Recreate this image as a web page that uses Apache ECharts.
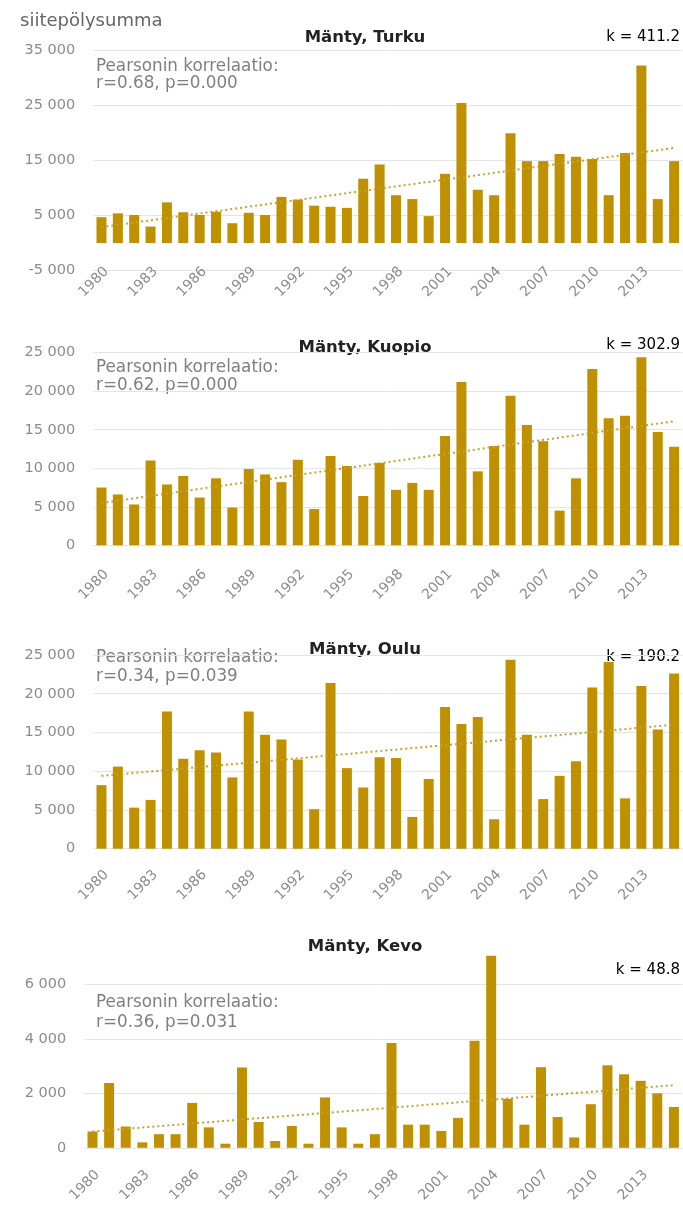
<!DOCTYPE html>
<html>
<head>
<meta charset="utf-8">
<script src="https://cdn.jsdelivr.net/npm/echarts@6/dist/echarts.min.js"></script>
<style>
  html, body { margin: 0; padding: 0; background: #fff; }
  #chart { width: 683px; height: 1205px; }
</style>
</head>
<body>
<div id="chart"></div>
<script>
// vuodet (x-akseli)
const years = ['1980', '1981', '1982', '1983', '1984', '1985', '1986', '1987', '1988', '1989',
  '1990', '1991', '1992', '1993', '1994', '1995', '1996', '1997', '1998', '1999',
  '2000', '2001', '2002', '2003', '2004', '2005', '2006', '2007', '2008', '2009',
  '2010', '2011', '2012', '2013', '2014', '2015'];

// siitepölysummat, luettu kuvasta
const turku = [4700, 5400, 5100, 3000, 7400, 5600, 5100, 5700, 3600, 5500, 5100, 8400, 7900, 6800, 6600,
  6400, 11700, 14300, 8700, 8000, 4900, 12600, 25500, 9700, 8700, 20000, 14900, 14900, 16200, 15700,
  15300, 8700, 16400, 32300, 8000, 14900];
const kuopio = [7500, 6600, 5300, 11000, 7900, 9000, 6200, 8700, 4900, 9900, 9200, 8200, 11100, 4700, 11600,
  10300, 6400, 10700, 7200, 8100, 7200, 14200, 21200, 9600, 12900, 19400, 15600, 13500, 4500, 8700,
  22900, 16500, 16800, 24400, 14700, 12800];
const oulu = [8200, 10600, 5300, 6300, 17700, 11600, 12700, 12400, 9200, 17700, 14700, 14100, 11500, 5100, 21400,
  10400, 7900, 11800, 11700, 4100, 9000, 18300, 16100, 17000, 3800, 24400, 14700, 6400, 9400, 11300,
  20800, 24100, 6500, 21000, 15400, 22600];
const kevo = [600, 2380, 780, 200, 500, 500, 1650, 750, 150, 2950, 950, 250, 800, 150, 1850,
  750, 150, 500, 3850, 850, 850, 620, 1100, 3930, 7050, 1800, 850, 2960, 1130, 380,
  1600, 3030, 2700, 2460, 2000, 1500];

// trendiviivan päätepisteet (1980, 2015)
const turkuTrend = [2900, 17300];
const kuopioTrend = [5500, 16100];
const ouluTrend = [9400, 16000];
const kevoTrend = [600, 2300];

// tekstit
const titles = ['Mänty, Turku', 'Mänty, Kuopio', 'Mänty, Oulu', 'Mänty, Kevo'];
const slopes = ['k = 411.2', 'k = 302.9', 'k = 190.2', 'k = 48.8'];
const pearson = ['r=0.68, p=0.000', 'r=0.62, p=0.000', 'r=0.34, p=0.039', 'r=0.36, p=0.031'];

const FONT = 'DejaVu Sans';
const barColor = '#BF9000';
const trendColor = '#c9a030';

// paneelien asettelu
const panels = [
  { data: turku, trend: turkuTrend, grid: { left: 93.3, top: 50.7, width: 589, height: 219.8 },
    y: { min: -5000, max: 35000, interval: 10000 }, labelMargin: -6,
    titleY: 38, kY: 37, pY: [66.5, 84] },
  { data: kuopio, trend: kuopioTrend, grid: { left: 93.3, top: 352.7, width: 589, height: 192.6 },
    y: { min: 0, max: 25000, interval: 5000 }, labelMargin: 22,
    titleY: 348, kY: 345, pY: [367.5, 386] },
  { data: oulu, trend: ouluTrend, grid: { left: 93.3, top: 655, width: 589, height: 193.7 },
    y: { min: 0, max: 25000, interval: 5000 }, labelMargin: 19,
    titleY: 650, kY: 657, pY: [657.5, 677] },
  { data: kevo, trend: kevoTrend, grid: { left: 84.2, top: 954.5, width: 598, height: 197.2 },
    y: { min: 0, max: 7100, interval: 2000 }, labelMargin: 20,
    titleY: 947, kY: 970, pY: [1002.5, 1023] }
];

const fmt = (v) => {
  const s = Math.abs(v).toString().replace(/\B(?=(\d{3})+(?!\d))/g, ' ');
  return (v < 0 ? '-' : '') + s;
};

const chart = echarts.init(document.getElementById('chart'));

const graphic = [
  { type: 'text', left: 20, top: 12,
    style: { text: 'siitepölysumma', font: '18px ' + FONT, fill: '#666' } }
];
panels.forEach((p, i) => {
  graphic.push({ type: 'text', x: 365, y: p.titleY,
    style: { text: titles[i], font: 'bold 16.5px ' + FONT, fill: '#222', align: 'center', verticalAlign: 'middle' } });
  graphic.push({ type: 'text', x: 680, y: p.kY,
    style: { text: slopes[i], font: '15px ' + FONT, fill: '#000', align: 'right', verticalAlign: 'middle' } });
  graphic.push({ type: 'text', x: 96, y: p.pY[0],
    style: { text: 'Pearsonin korrelaatio:', font: '16.8px ' + FONT, fill: '#7f7f7f', verticalAlign: 'middle' } });
  graphic.push({ type: 'text', x: 96, y: p.pY[1],
    style: { text: pearson[i], font: '16.8px ' + FONT, fill: '#7f7f7f', verticalAlign: 'middle' } });
});

const option = {
  backgroundColor: '#fff',
  animation: false,
  grid: panels.map((p) => p.grid),
  xAxis: panels.map((p, i) => ({
    type: 'category',
    gridIndex: i,
    data: years,
    axisLine: { show: false, onZero: false },
    axisTick: { show: false },
    axisLabel: {
      interval: 2,
      rotate: 45,
      verticalAlign: 'top',
      margin: p.labelMargin,
      color: '#8c8c8c',
      fontSize: 14,
      fontFamily: FONT
    }
  })),
  yAxis: panels.map((p, i) => ({
    type: 'value',
    gridIndex: i,
    min: p.y.min,
    max: p.y.max,
    interval: p.y.interval,
    axisLine: { show: false },
    axisTick: { show: false },
    axisLabel: {
      margin: 18,
      color: '#8c8c8c',
      fontSize: 14.5,
      fontFamily: FONT,
      showMaxLabel: p.y.max % p.y.interval === 0 || p.y.min < 0,
      formatter: fmt
    },
    splitLine: {
      lineStyle: { color: '#e4e4e4', width: 1 },
      showMaxLine: i !== 3
    }
  })),
  series: panels.map((p, i) => ({
    type: 'bar',
    xAxisIndex: i,
    yAxisIndex: i,
    data: p.data,
    barWidth: 10,
    itemStyle: { color: barColor },
    markLine: {
      silent: true,
      symbol: ['none', 'none'],
      label: { show: false },
      lineStyle: { color: trendColor, width: 2, type: [2, 3] },
      data: [[
        { coord: [years[0], p.trend[0]] },
        { coord: [years[years.length - 1], p.trend[1]] }
      ]]
    }
  })),
  graphic: graphic
};

chart.setOption(option);
</script>
</body>
</html>
